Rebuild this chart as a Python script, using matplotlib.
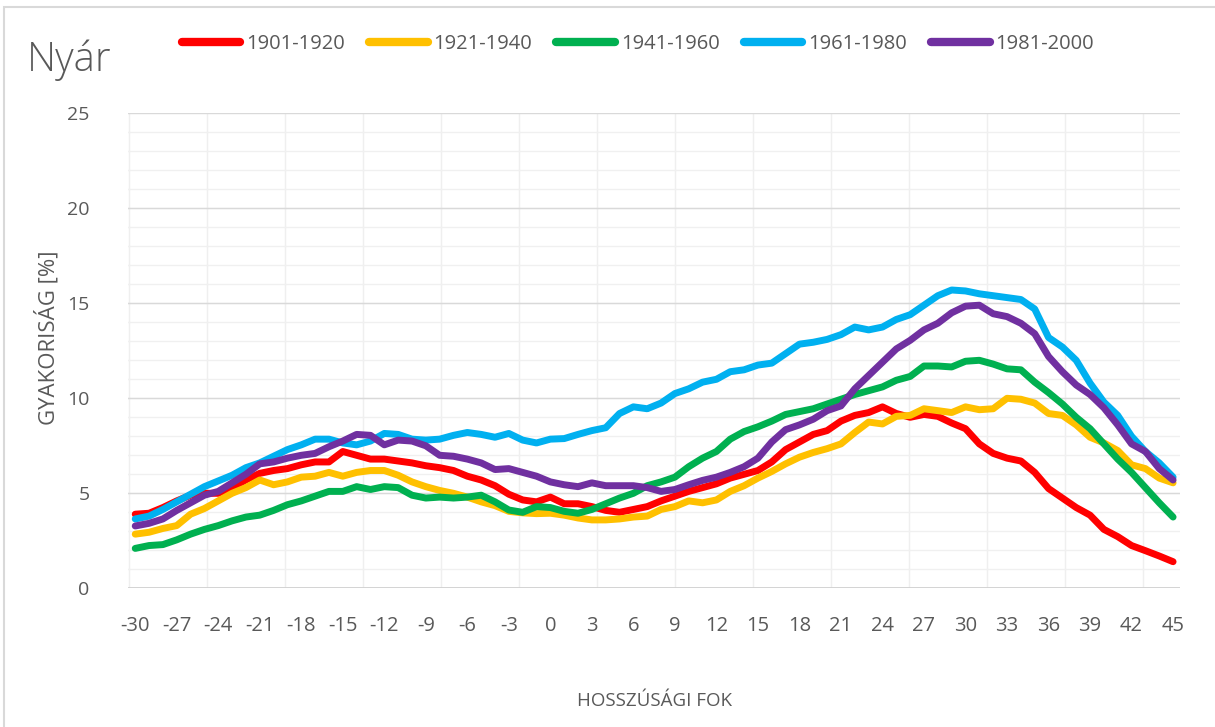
import numpy as np
import matplotlib
matplotlib.use("Agg")
from matplotlib import pyplot as plt
from matplotlib.patches import Rectangle

plt.rcParams['font.family'] = ['Open Sans', 'DejaVu Sans']
plt.rcParams['axes.unicode_minus'] = False

# longitude (degrees)
lon = list(range(-30, 46))

labels = ['1901-1920', '1921-1940', '1941-1960', '1961-1980', '1981-2000']
colors = ['#FF0000', '#FFC000', '#00B050', '#00B0F0', '#7030A0']

s1901 = [3.9, 3.95, 4.25, 4.6, 4.9, 5.0, 5.0, 5.3, 5.7, 6.05,
         6.2, 6.3, 6.5, 6.65, 6.65, 7.2, 7.0, 6.8, 6.8, 6.7,
         6.6, 6.45, 6.35, 6.2, 5.9, 5.7, 5.4, 4.95, 4.65, 4.55,
         4.8, 4.45, 4.45, 4.3, 4.1, 4.0, 4.15, 4.3, 4.6, 4.85,
         5.1, 5.3, 5.5, 5.8, 6.0, 6.2, 6.65, 7.3, 7.7, 8.1,
         8.3, 8.8, 9.1, 9.25, 9.55, 9.2, 9.0, 9.15, 9.05, 8.7,
         8.4, 7.6, 7.1, 6.85, 6.7, 6.1, 5.25, 4.75, 4.25, 3.85,
         3.1, 2.72, 2.25, 1.98, 1.7, 1.4]
s1921 = [2.85, 2.95, 3.15, 3.3, 3.9, 4.2, 4.6, 5.0, 5.3, 5.7,
         5.45, 5.6, 5.85, 5.9, 6.1, 5.9, 6.1, 6.2, 6.2, 5.95,
         5.6, 5.35, 5.15, 5.0, 4.8, 4.55, 4.35, 4.05, 3.97, 3.93,
         3.95, 3.85, 3.7, 3.6, 3.6, 3.65, 3.75, 3.8, 4.15, 4.3,
         4.6, 4.5, 4.65, 5.1, 5.4, 5.8, 6.15, 6.55, 6.9, 7.15,
         7.35, 7.6, 8.2, 8.75, 8.65, 9.05, 9.1, 9.45, 9.35, 9.25,
         9.55, 9.4, 9.45, 10.0, 9.95, 9.75, 9.2, 9.1, 8.6, 7.95,
         7.65, 7.25, 6.5, 6.3, 5.8, 5.55]
s1941 = [2.1, 2.25, 2.3, 2.55, 2.85, 3.1, 3.3, 3.55, 3.75, 3.85,
         4.1, 4.4, 4.6, 4.85, 5.1, 5.1, 5.35, 5.2, 5.35, 5.3,
         4.9, 4.75, 4.8, 4.75, 4.8, 4.9, 4.55, 4.12, 4.0, 4.3,
         4.25, 4.05, 3.95, 4.15, 4.45, 4.75, 5.0, 5.4, 5.6, 5.85,
         6.4, 6.85, 7.2, 7.85, 8.25, 8.5, 8.8, 9.15, 9.3, 9.45,
         9.7, 9.95, 10.2, 10.4, 10.6, 10.95, 11.15, 11.7, 11.7, 11.65,
         11.95, 12.0, 11.8, 11.55, 11.5, 10.85, 10.3, 9.7, 9.0, 8.4,
         7.6, 6.8, 6.1, 5.3, 4.5, 3.75]
s1961 = [3.65, 3.8, 4.15, 4.55, 4.95, 5.35, 5.65, 5.95, 6.35, 6.6,
         6.95, 7.3, 7.55, 7.85, 7.85, 7.65, 7.55, 7.75, 8.15, 8.1,
         7.85, 7.8, 7.85, 8.05, 8.2, 8.1, 7.95, 8.15, 7.8, 7.65,
         7.85, 7.88, 8.1, 8.3, 8.45, 9.2, 9.55, 9.45, 9.75, 10.25,
         10.5, 10.85, 11.0, 11.4, 11.5, 11.75, 11.85, 12.35, 12.85, 12.95,
         13.1, 13.35, 13.75, 13.6, 13.75, 14.15, 14.4, 14.9, 15.4, 15.7,
         15.65, 15.5, 15.4, 15.3, 15.2, 14.7, 13.2, 12.7, 12.0, 10.8,
         9.8, 9.1, 8.0, 7.2, 6.6, 5.85]
s1981 = [3.28, 3.42, 3.65, 4.1, 4.5, 4.9, 5.1, 5.55, 6.0, 6.55,
         6.65, 6.85, 7.0, 7.1, 7.45, 7.75, 8.1, 8.05, 7.55, 7.8,
         7.75, 7.5, 7.0, 6.95, 6.8, 6.6, 6.25, 6.3, 6.1, 5.9,
         5.6, 5.45, 5.35, 5.55, 5.4, 5.4, 5.4, 5.3, 5.1, 5.2,
         5.45, 5.68, 5.85, 6.1, 6.4, 6.85, 7.7, 8.35, 8.6, 8.9,
         9.35, 9.6, 10.5, 11.2, 11.9, 12.6, 13.05, 13.6, 13.95, 14.5,
         14.85, 14.9, 14.45, 14.3, 13.95, 13.4, 12.2, 11.4, 10.7, 10.2,
         9.5, 8.6, 7.6, 7.2, 6.3, 5.7]

series = [s1901, s1921, s1941, s1961, s1981]
xticks = list(range(-30, 46, 3))

txt = '#595959'
fig = plt.figure(figsize=(12.15, 7.27), dpi=100)
fig.patches.append(Rectangle((4/1215, -0.02), 1.1, 1 - 7/727 + 0.02, transform=fig.transFigure,
                             fill=False, edgecolor='#d9d9d9', lw=1.5))
ax = fig.add_axes([128.3/1215, 1 - 588.3/727, (1180 - 128.3)/1215, (588.3 - 113.3)/727])

# grid
for v in np.arange(-30.48, 45.6, 5.64):
    ax.axvline(v, color='#efefef', lw=1, zorder=0)
for v in range(1, 25):
    ax.axhline(v, color='#f0f0f0', lw=1, zorder=0)
for v in range(5, 26, 5):
    ax.axhline(v, color='#d9d9d9', lw=1, zorder=0)
ax.axhline(0, color='#d0d0d0', lw=1.3, zorder=1)

for s, c, lab in zip(series, colors, labels):
    ax.plot(lon, s, color=c, lw=5, solid_capstyle='round', solid_joinstyle='round', label=lab, zorder=3)

ax.set_xlim(-30.5, 45.5)
ax.set_ylim(0, 25)
ax.set_xticks(xticks)
ax.set_yticks(range(0, 26, 5))
ax.tick_params(length=0, colors=txt, labelsize=14)
ax.tick_params(axis='x', pad=20, labelsize=14.5)
ax.tick_params(axis='y', pad=28)
for sp in ax.spines.values():
    sp.set_visible(False)

ax.set_xlabel('HOSSZÚSÁGI FOK', color=txt, fontsize=13.5, labelpad=40)
fig.text(47/1215, 1 - 338/727, 'GYAKORISÁG [%]', color=txt, fontsize=16,
         rotation=90, ha='center', va='center')

fig.text(27/1215, 1 - 60/727, 'Nyár', fontsize=29, color=txt, va='center', ha='left', fontweight='light')

leg = fig.legend(loc='center', bbox_to_anchor=(638/1215, 1 - 44/727), ncol=5, frameon=False,
                 fontsize=14.5, handlelength=2.9, handletextpad=0.3, columnspacing=1.2,
                 labelcolor=txt)
for h in leg.get_lines():
    h.set_linewidth(6)
    h.set_solid_capstyle('round')

fig.savefig('out.png', dpi=100)
